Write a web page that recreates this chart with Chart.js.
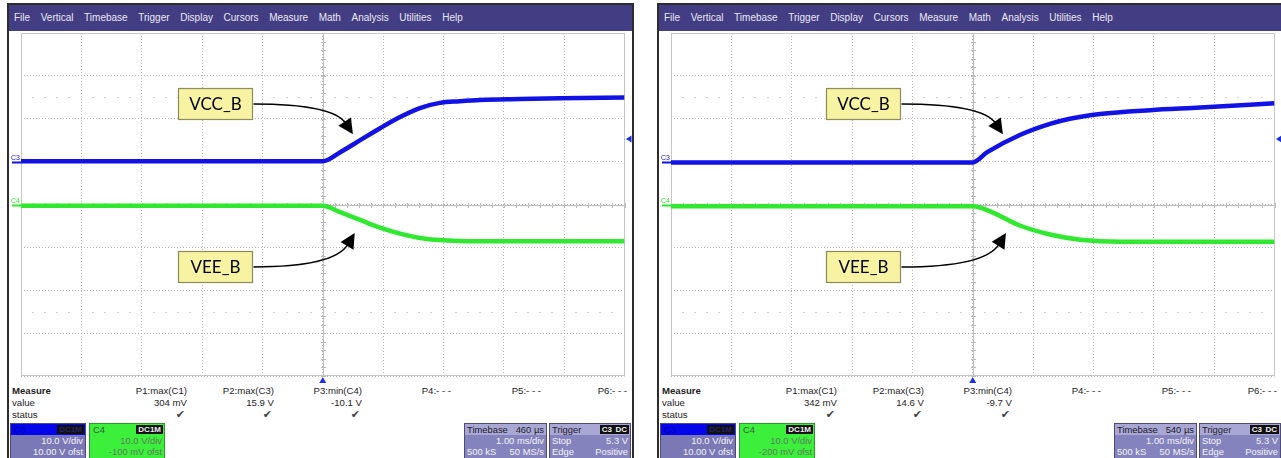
<!DOCTYPE html>
<html>
<head>
<meta charset="utf-8">
<script src="https://cdn.jsdelivr.net/npm/chart.js@4.4.1/dist/chart.umd.min.js"></script>
<style>
  html, body { margin: 0; padding: 0; background: #fff; width: 1281px; height: 458px; overflow: hidden;
    font-family: "Liberation Sans", Arial, sans-serif; }
  .frame { position: absolute; top: 3px; width: 623px; height: 470px; border: 2px solid #2d2d2d; background: #fff; }
  .menu { position: absolute; top: 5px; width: 623px; height: 26px; background: #433d84; color: #e9e9f3;
    font-size: 10px; line-height: 26px; display: flex; gap: 10.6px; padding-left: 5px; box-sizing: border-box; }
  .plot { position: absolute; top: 31px; width: 623px; height: 353px; }
  .mtxt { position: absolute; font-size: 9.6px; color: #1e1e1e; line-height: 12px; white-space: nowrap; }
  .box { position: absolute; top: 423px; height: 36px; border: 1px solid #4d4b78; box-sizing: border-box; overflow: hidden; }
  .box .t { position: absolute; font-size: 9.4px; line-height: 11px; white-space: nowrap; }
  .badge { position: absolute; top: 1px; height: 9px; background: #111; font-size: 8px; line-height: 9px;
    font-weight: bold; padding: 0 2px; }
</style>
</head>
<body>
<script>
// ---- menu and measurement labels ----
const menuItems = ['File', 'Vertical', 'Timebase', 'Trigger', 'Display', 'Cursors', 'Measure', 'Math', 'Analysis', 'Utilities', 'Help'];
const measureNames = ['P1:max(C1)', 'P2:max(C3)', 'P3:min(C4)', 'P4:- - -', 'P5:- - -', 'P6:- - -'];

// ---- left capture: time in ms, volts ----
const leftVccTime = [-5, 0, 0.29, 0.62, 0.95, 1.28, 1.61, 1.94, 2.27, 2.61, 3.27, 3.93, 5];
const leftVccVolts = [0.1, 0.1, 2.2, 5.0, 7.8, 10.4, 12.5, 13.7, 14.1, 14.4, 14.6, 14.8, 14.95];
const leftVeeTime = [-5, 0, 0.29, 0.62, 0.95, 1.28, 1.61, 1.94, 2.27, 2.94, 5];
const leftVeeVolts = [-0.2, -0.2, -1.7, -3.5, -5.3, -6.7, -7.7, -8.2, -8.4, -8.5, -8.5];
const leftMeasureValues = ['304 mV', '15.9 V', '-10.1 V'];

// ---- right capture ----
const rightVccTime = [-5, 0, 0.24, 0.78, 1.28, 1.61, 2.11, 2.94, 3.77, 5];
const rightVccVolts = [-0.2, -0.2, 2.2, 6.2, 8.8, 10.0, 11.1, 12.0, 12.6, 13.6];
const rightVeeTime = [-5, 0, 0.29, 0.78, 1.28, 1.78, 2.44, 5];
const rightVeeVolts = [-0.2, -0.2, -1.4, -4.7, -6.8, -8.0, -8.5, -8.5];
const rightMeasureValues = ['342 mV', '14.6 V', '-9.7 V'];

const panels = [
  { off: 0, vcc: [leftVccTime, leftVccVolts], vee: [leftVeeTime, leftVeeVolts], values: leftMeasureValues,
    delay: '460 µs', c4ofst: '-100 mV ofst', c4OffsetV: -0.1,
    notes: [ { text: 'VCC_B', x0: -2.40, x1: -1.17, y0: 1.99, y1: 2.72, tipX: 0.50, tipY: 1.64 },
             { text: 'VEE_B', x0: -2.40, x1: -1.17, y0: -1.81, y1: -1.085, tipX: 0.53, tipY: -0.665 } ] },
  { off: 650, vcc: [rightVccTime, rightVccVolts], vee: [rightVeeTime, rightVeeVolts], values: rightMeasureValues,
    delay: '540 µs', c4ofst: '-200 mV ofst', c4OffsetV: -0.2,
    notes: [ { text: 'VCC_B', x0: -2.43, x1: -1.20, y0: 1.99, y1: 2.72, tipX: 0.50, tipY: 1.64 },
             { text: 'VEE_B', x0: -2.43, x1: -1.20, y0: -1.81, y1: -1.085, tipX: 0.55, tipY: -0.665 } ] }
];

const C3_COLOR = '#1212e4';
const C4_COLOR = '#2fe82f';

function div(cls, style, text) {
  const d = document.createElement('div');
  if (cls) d.className = cls;
  Object.assign(d.style, style);
  if (text != null) d.textContent = text;
  return d;
}
function pts(t, v) { return t.map((x, i) => ({ x, y: v[i] })); }

function scopePlugin(p) {
  return {
    id: 'scope',
    beforeDatasetsDraw(chart) {
      const { ctx, chartArea: a, scales: { x, yd } } = chart;
      ctx.save();
      ctx.lineWidth = 1;
      const cx = Math.round(x.getPixelForValue(0)) + 0.5;
      const cy = Math.round(yd.getPixelForValue(0)) + 0.5;
      // solid centre cross with minor ticks
      ctx.strokeStyle = '#bcbcbc';
      ctx.beginPath();
      ctx.moveTo(a.left, cy); ctx.lineTo(a.right, cy);
      ctx.moveTo(cx, a.top); ctx.lineTo(cx, a.bottom);
      for (let i = -25; i <= 25; i++) {
        const px = Math.round(x.getPixelForValue(i / 5)) + 0.5;
        ctx.moveTo(px, cy - 2.5); ctx.lineTo(px, cy + 2.5);
      }
      for (let i = -20; i <= 20; i++) {
        const py = Math.round(yd.getPixelForValue(i / 5)) + 0.5;
        ctx.moveTo(cx - 2.5, py); ctx.lineTo(cx + 2.5, py);
      }
      ctx.stroke();
      // faint dotted marker rows at +-2.5 div
      ctx.strokeStyle = '#d0d0d0';
      ctx.beginPath();
      [2.5, -2.5].forEach(d => {
        const py = Math.round(yd.getPixelForValue(d)) + 0.5;
        for (let i = -24; i <= 24; i++) {
          if (i % 5 === 0) continue;
          const px = Math.round(x.getPixelForValue(i / 5));
          ctx.moveTo(px - 1, py); ctx.lineTo(px + 1, py);
        }
      });
      ctx.stroke();
      // graticule frame
      ctx.strokeStyle = '#c6c6c6';
      ctx.strokeRect(Math.round(a.left) + 0.5, Math.round(a.top) + 0.5, Math.round(a.width) - 1, Math.round(a.height) - 1);
      ctx.restore();
    },
    afterDatasetsDraw(chart) {
      const { ctx, scales: { x, yd } } = chart;
      ctx.save();
      p.notes.forEach(n => {
        const l = Math.round(x.getPixelForValue(n.x0)) + 0.5, r = Math.round(x.getPixelForValue(n.x1)) + 0.5;
        const t = Math.round(yd.getPixelForValue(n.y1)) + 0.5, b = Math.round(yd.getPixelForValue(n.y0)) + 0.5;
        ctx.fillStyle = '#f8f3a2';
        ctx.strokeStyle = '#8d8a5c';
        ctx.lineWidth = 1.2;
        ctx.fillRect(l, t, r - l, b - t);
        ctx.strokeRect(l, t, r - l, b - t);
        ctx.fillStyle = '#000';
        ctx.font = '17px Lato, "Open Sans", sans-serif';
        ctx.textAlign = 'center';
        ctx.textBaseline = 'middle';
        ctx.fillText(n.text, (l + r) / 2, (t + b) / 2 + 1);
        // curved arrow from the label to the trace
        const sx = r + 1, sy = (t + b) / 2;
        const tx = x.getPixelForValue(n.tipX), ty = yd.getPixelForValue(n.tipY);
        const cxp = tx - 0.2 * (tx - sx), cyp = sy;
        let ux = tx - cxp, uy = ty - cyp;
        const len = Math.hypot(ux, uy); ux /= len; uy /= len;
        const hl = 15, hw = 7.5;
        const bx = tx - ux * hl, by = ty - uy * hl;
        ctx.strokeStyle = '#000';
        ctx.lineWidth = 1.5;
        ctx.beginPath();
        ctx.moveTo(sx, sy);
        ctx.quadraticCurveTo(cxp, cyp, bx + ux * 2, by + uy * 2);
        ctx.stroke();
        ctx.fillStyle = '#000';
        ctx.beginPath();
        ctx.moveTo(tx, ty);
        ctx.lineTo(bx - uy * hw, by + ux * hw);
        ctx.lineTo(bx + uy * hw, by - ux * hw);
        ctx.closePath();
        ctx.fill();
      });
      ctx.restore();
    },
    afterDraw(chart) {
      const { ctx, chartArea: a, scales: { x, yC3, yC4 } } = chart;
      ctx.save();
      // channel ground markers on the left
      [['C3', C3_COLOR, yC3], ['C4', C4_COLOR, yC4]].forEach(([name, col, sc]) => {
        const y0 = Math.round(sc.getPixelForValue(0)) + 0.5;
        ctx.strokeStyle = col;
        ctx.lineWidth = 2;
        ctx.beginPath(); ctx.moveTo(a.left - 9, y0); ctx.lineTo(a.left, y0); ctx.stroke();
        ctx.fillStyle = col;
        ctx.font = '7px "Liberation Sans", Arial, sans-serif';
        ctx.textAlign = 'left'; ctx.textBaseline = 'alphabetic';
        ctx.fillText(name, a.left - 10, y0 - 3);
      });
      // trigger position marker under the graticule
      const tx = x.getPixelForValue(0);
      ctx.fillStyle = '#1a2ee6';
      ctx.beginPath();
      ctx.moveTo(tx, a.bottom + 1); ctx.lineTo(tx + 3.5, a.bottom + 7); ctx.lineTo(tx - 3.5, a.bottom + 7);
      ctx.closePath(); ctx.fill();
      // trigger level marker on the right (5.3 V on C3)
      const ty = yC3.getPixelForValue(5.3);
      ctx.beginPath();
      ctx.moveTo(a.right + 1.5, ty); ctx.lineTo(a.right + 7, ty - 3.5); ctx.lineTo(a.right + 7, ty + 3.5);
      ctx.closePath(); ctx.fill();
      ctx.restore();
    }
  };
}

panels.forEach(p => {
  const o = p.off;
  document.body.appendChild(div('frame', { left: (o + 7) + 'px' }));
  const menu = div('menu', { left: (o + 9) + 'px' });
  menuItems.forEach(m => menu.appendChild(div(null, {}, m)));
  document.body.appendChild(menu);

  // plot
  const holder = div('plot', { left: (o + 9) + 'px' });
  const cv = document.createElement('canvas');
  cv.width = 623; cv.height = 353;
  holder.appendChild(cv);
  document.body.appendChild(holder);

  const gridCfg = { color: '#b4b4b4', drawTicks: false, lineWidth: 1 };
  const borderCfg = { display: false, dash: [1, 2] };
  new Chart(cv, {
    type: 'line',
    data: {
      datasets: [
        { data: pts(p.vee[0], p.vee[1]), yAxisID: 'yC4', borderColor: C4_COLOR, borderWidth: 4.5, pointRadius: 0, cubicInterpolationMode: 'monotone' },
        { data: pts(p.vcc[0], p.vcc[1]), yAxisID: 'yC3', borderColor: C3_COLOR, borderWidth: 4.5, pointRadius: 0, cubicInterpolationMode: 'monotone' }
      ]
    },
    options: {
      responsive: false, animation: false, devicePixelRatio: 1,
      layout: { padding: { left: 12, right: 7.5, top: 2, bottom: 8 } },
      plugins: { legend: { display: false }, tooltip: { enabled: false } },
      scales: {
        x: { type: 'linear', min: -5, max: 5, ticks: { display: false, stepSize: 1 }, grid: gridCfg, border: borderCfg },
        yd: { type: 'linear', position: 'left', min: -4, max: 4, ticks: { display: false, stepSize: 1 }, grid: gridCfg, border: borderCfg },
        // C3: 10 V/div, +10 V offset
        yC3: { type: 'linear', display: false, min: -50, max: 30 },
        // C4: 10 V/div, small negative offset
        yC4: { type: 'linear', display: false, min: -40 - p.c4OffsetV, max: 40 - p.c4OffsetV }
      }
    },
    plugins: [scopePlugin(p)]
  });

  // measurement table
  const put = (txt, left, top, w, align, extra) => {
    const d = div('mtxt', Object.assign({ left: left + 'px', top: top + 'px', width: w + 'px', textAlign: align }, extra || {}), txt);
    document.body.appendChild(d);
  };
  put('Measure', o + 12, 385, 60, 'left', { fontWeight: 'bold' });
  put('value', o + 12, 397, 60, 'left');
  put('status', o + 12, 409, 60, 'left');
  const rights = [187, 274, 362, 451, 541, 627];
  measureNames.forEach((m, i) => put(m, o + rights[i] - 80, 385, 80, 'right'));
  p.values.forEach((v, i) => put(v, o + rights[i] - 80, 397, 80, 'right'));
  [0, 1, 2].forEach(i => put('✔', o + rights[i] - 80, 409, 78, 'right', { color: '#444', fontFamily: '"DejaVu Sans", sans-serif', fontSize: '11px' }));

  // channel and acquisition boxes
  const box = (left, w, bg) => { const b = div('box', { left: left + 'px', width: w + 'px', background: bg }); document.body.appendChild(b); return b; };
  const txt = (b, s, top, side, pos, col) => { const t = div('t', { top: top + 'px', [side]: pos + 'px', color: col }, s); b.appendChild(t); return t; };
  const badge = (b, s, right, col) => { const t = div('badge', { right: right + 'px', color: col }, s); b.appendChild(t); };

  const b3 = box(o + 10, 76, '#7b79b5');
  b3.appendChild(div(null, { position: 'absolute', left: 0, top: 0, right: 0, height: '11px', background: '#0505ec' }));
  txt(b3, 'C3', 0, 'left', 3, '#0000a8');
  badge(b3, 'DC1M', 1, '#23236a');
  txt(b3, '10.0 V/div', 11, 'right', 2, '#f4f4fa');
  txt(b3, '10.00 V ofst', 22, 'right', 2, '#f4f4fa');

  const b4 = box(o + 89, 76, '#3bef3b');
  b4.style.borderColor = '#2a9a2a';
  txt(b4, 'C4', 0, 'left', 3, '#3c5c3c');
  badge(b4, 'DC1M', 1, '#f0f0f0');
  txt(b4, '10.0 V/div', 11, 'right', 2, '#5f7a5f');
  txt(b4, p.c4ofst, 22, 'right', 2, '#5f7a5f');

  const bt = box(o + 464, 83, '#8583bd');
  bt.appendChild(div(null, { position: 'absolute', left: 0, top: 0, right: 0, height: '11px', background: '#a9a7d3' }));
  txt(bt, 'Timebase', 0, 'left', 2, '#1c1c2c');
  txt(bt, p.delay, 0, 'right', 2, '#1c1c2c');
  txt(bt, '1.00 ms/div', 11, 'right', 2, '#f4f4fa');
  txt(bt, '500 kS', 22, 'left', 2, '#f4f4fa');
  txt(bt, '50 MS/s', 22, 'right', 2, '#f4f4fa');

  const bg = box(o + 549, 82, '#8583bd');
  bg.appendChild(div(null, { position: 'absolute', left: 0, top: 0, right: 0, height: '11px', background: '#a9a7d3' }));
  txt(bg, 'Trigger', 0, 'left', 2, '#1c1c2c');
  badge(bg, 'DC', 1, '#f0f0f0');
  badge(bg, 'C3', 16, '#f0f0f0');
  txt(bg, 'Stop', 11, 'left', 2, '#f4f4fa');
  txt(bg, '5.3 V', 11, 'right', 2, '#f4f4fa');
  txt(bg, 'Edge', 22, 'left', 2, '#f4f4fa');
  txt(bg, 'Positive', 22, 'right', 2, '#f4f4fa');
});
</script>
</body>
</html>
